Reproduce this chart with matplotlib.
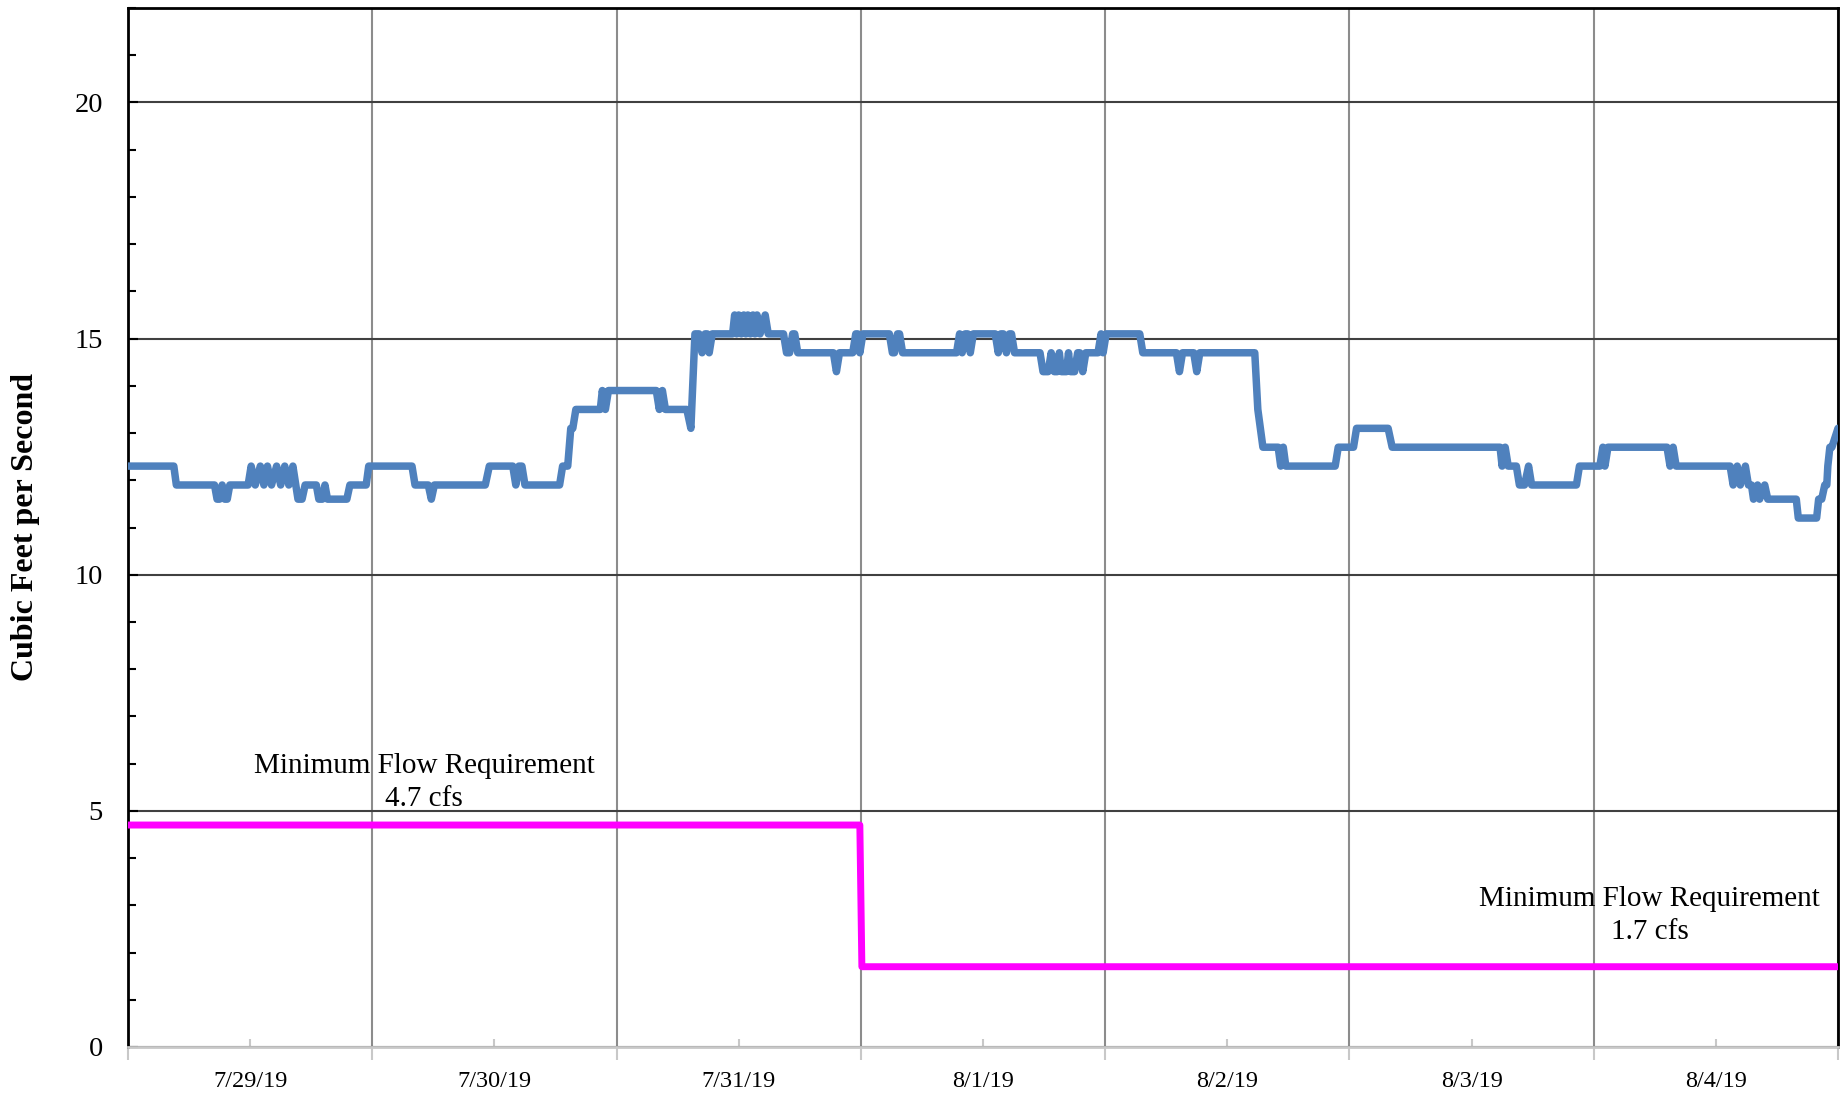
import datetime as dt
import matplotlib
matplotlib.use('Agg')
import matplotlib.pyplot as plt
import matplotlib.dates as mdates
from matplotlib.ticker import MultipleLocator, NullFormatter

plt.rcParams['font.family'] = ['Liberation Serif', 'DejaVu Serif']

start = dt.datetime(2019, 7, 29)
end = dt.datetime(2019, 8, 5)

flow_hours = [
    0, 4.5, 4.75, 8.5, 8.75, 9.0, 9.25, 9.5, 9.75, 10.0,
    11.8, 12.1, 12.5, 13.0, 13.35, 13.7, 14.1, 14.6, 15.0, 15.4, 15.8, 16.2,
    16.7, 17.1, 17.4, 18.5, 18.75, 19.1, 19.35, 19.6, 21.5, 21.8, 23.4, 23.65,
    27.9, 28.2, 29.5, 29.8, 30.1, 35.1, 35.5, 37.8, 38.1, 38.4, 38.7, 39.0,
    42.4, 42.7, 43.2, 43.5, 43.7, 44.0, 46.4, 46.6, 46.9, 47.2,
    51.9, 52.2, 52.5, 52.8, 54.9, 55.3, 55.7, 56.1, 56.4, 56.7, 56.9, 57.1, 57.4,
    59.4, 59.6, 59.8, 60.0, 60.25, 60.5, 60.7, 60.9, 61.15, 61.4, 61.6, 61.8,
    62.1, 62.6, 62.9, 64.4, 64.7, 65.0, 65.3, 65.5, 65.8, 69.3, 69.6, 69.9,
    71.2, 71.5, 71.7, 71.9, 72.2, 74.8, 75.1, 75.3, 75.6, 75.8, 76.1,
    81.4, 81.7, 81.95, 82.25, 82.5, 82.75, 83.05, 85.2, 85.5, 85.75, 86.0,
    86.3, 86.6, 86.8, 87.1, 89.6, 89.9, 90.4, 90.7, 91.0, 91.3, 91.5, 91.7,
    92.2, 92.4, 92.6, 93.0, 93.3, 93.5, 93.8, 94.1, 95.3, 95.6, 95.8, 96.1,
    99.4, 99.7, 103.0, 103.3, 103.6, 104.7, 105.0, 105.3, 110.7, 111.0, 111.5,
    113.0, 113.25, 113.5, 113.75, 118.6, 118.9, 120.4, 120.7, 123.8, 124.2,
    134.8, 135.0, 135.3, 135.6, 136.4, 136.7, 137.2, 137.6, 137.9, 142.3,
    142.6, 144.6, 144.9, 145.1, 145.4, 151.2, 151.5, 151.8, 152.1, 157.4,
    157.7, 158.1, 158.4, 158.9, 159.2, 159.5, 159.7, 160.1, 160.3, 160.8,
    161.1, 163.9, 164.1, 165.9, 166.1, 166.4, 166.7, 166.9, 167.0, 167.2,
    167.4, 168.0,
]
flow_cfs = [
    12.3, 12.3, 11.9, 11.9, 11.6, 11.6, 11.9, 11.6, 11.6, 11.9,
    11.9, 12.3, 11.9, 12.3, 11.9, 12.3, 11.9, 12.3, 11.9, 12.3, 11.9, 12.3,
    11.6, 11.6, 11.9, 11.9, 11.6, 11.6, 11.9, 11.6, 11.6, 11.9, 11.9, 12.3,
    12.3, 11.9, 11.9, 11.6, 11.9, 11.9, 12.3, 12.3, 11.9, 12.3, 12.3, 11.9,
    11.9, 12.3, 12.3, 13.1, 13.1, 13.5, 13.5, 13.9, 13.5, 13.9,
    13.9, 13.5, 13.9, 13.5, 13.5, 13.1, 15.1, 15.1, 14.7, 15.1, 15.1, 14.7, 15.1,
    15.1, 15.5, 15.1, 15.5, 15.1, 15.5, 15.1, 15.5, 15.1, 15.5, 15.1, 15.5,
    15.1, 15.5, 15.1, 15.1, 14.7, 14.7, 15.1, 15.1, 14.7, 14.7, 14.3, 14.7,
    14.7, 15.1, 15.1, 14.7, 15.1, 15.1, 14.7, 14.7, 15.1, 15.1, 14.7,
    14.7, 15.1, 14.7, 15.1, 15.1, 14.7, 15.1, 15.1, 14.7, 15.1, 15.1,
    14.7, 15.1, 15.1, 14.7, 14.7, 14.3, 14.3, 14.7, 14.3, 14.3, 14.7, 14.3,
    14.3, 14.7, 14.3, 14.3, 14.7, 14.7, 14.3, 14.7, 14.7, 15.1, 14.7, 15.1,
    15.1, 14.7, 14.7, 14.3, 14.7, 14.7, 14.3, 14.7, 14.7, 13.5, 12.7,
    12.7, 12.3, 12.7, 12.3, 12.3, 12.7, 12.7, 13.1, 13.1, 12.7,
    12.7, 12.3, 12.7, 12.3, 12.3, 11.9, 11.9, 12.3, 11.9, 11.9,
    12.3, 12.3, 12.7, 12.3, 12.7, 12.7, 12.3, 12.7, 12.3, 12.3,
    11.9, 12.3, 11.9, 12.3, 11.9, 11.9, 11.6, 11.9, 11.6, 11.9,
    11.6, 11.6, 11.2, 11.2, 11.6, 11.6, 11.9, 11.9, 12.3, 12.7,
    12.7, 13.1,
]

# minimum flow requirement
req_hours = [0, 71.9, 72.1, 168]
req_cfs = [4.7, 4.7, 1.7, 1.7]

notes = ['Minimum Flow Requirement\n4.7 cfs', 'Minimum Flow Requirement\n1.7 cfs']
note_hours = [29.1, 149.5]
note_cfs = [5.6, 2.78]


def to_dates(hours):
    return [start + dt.timedelta(hours=h) for h in hours]


fig = plt.figure(figsize=(18.43, 10.95), dpi=100)
ax = fig.add_axes([128 / 1843, 1 - 1047 / 1095, 1710 / 1843, 1039 / 1095])

ax.plot(to_dates(flow_hours), flow_cfs, color='#4f81bd', lw=5.4,
        solid_joinstyle='round', solid_capstyle='round', zorder=3)
ax.plot(to_dates(req_hours), req_cfs, color='#ff00ff', lw=5.0, zorder=3)

for txt, h, v in zip(notes, note_hours, note_cfs):
    ax.text(start + dt.timedelta(hours=h), v, txt, ha='center', va='center',
            multialignment='center', fontsize=21, linespacing=1.35, zorder=4)

ax.set_xlim(start, end)
ax.set_ylim(0, 22)

ax.yaxis.set_minor_locator(MultipleLocator(1))
ax.set_yticks([0, 5, 10, 15, 20])
ax.tick_params(axis='y', which='major', direction='in', length=7, width=1.5,
               labelsize=20.5, pad=18)
ax.tick_params(axis='y', which='minor', direction='in', length=6, width=1.5)

ax.xaxis.set_major_locator(mdates.DayLocator())
ax.xaxis.set_major_formatter(NullFormatter())
ax.xaxis.set_minor_locator(mdates.HourLocator(byhour=[12]))
ax.xaxis.set_minor_formatter(mdates.DateFormatter('%-m/%-d/%y'))
ax.tick_params(axis='x', which='major', direction='out', length=9, width=1.5,
               color='#c8c8c8')
ax.tick_params(axis='x', which='minor', direction='in', length=6, width=1.5,
               color='#c8c8c8', labelsize=17.5, pad=17)

ax.grid(axis='x', which='major', color='#8c8c8c', lw=1.5)
ax.grid(axis='y', which='major', color='#404040', lw=1.5)
ax.set_axisbelow(True)

for side in ['left', 'top', 'right']:
    ax.spines[side].set_color('black')
    ax.spines[side].set_linewidth(2)
ax.spines['bottom'].set_color('#c8c8c8')
ax.spines['bottom'].set_linewidth(2)

fig.text(26 / 1843, 1 - 527 / 1095, 'Cubic Feet per Second', rotation=90,
         ha='center', va='center', fontsize=23, fontweight='bold')

fig.savefig('out.png', dpi=100)
